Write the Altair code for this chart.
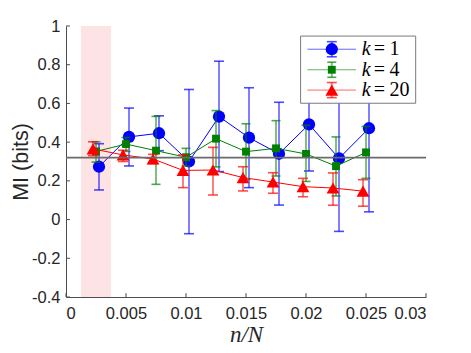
import altair as alt
import pandas as pd

# ---------------- data ----------------
x_k1 = [0.00275, 0.00525, 0.00775, 0.01025, 0.01275, 0.01525, 0.01775, 0.02025, 0.02275, 0.02525]
y_k1 = [0.273, 0.427, 0.446, 0.300, 0.532, 0.423, 0.340, 0.492, 0.316, 0.472]
lo_k1 = [0.153, 0.277, 0.356, -0.073, 0.248, 0.165, 0.075, 0.251, -0.061, 0.040]
hi_k1 = [0.392, 0.576, 0.536, 0.672, 0.818, 0.681, 0.606, 0.733, 0.693, 0.904]

x_k4 = [0.0025, 0.005, 0.0075, 0.01, 0.0125, 0.015, 0.0175, 0.02, 0.0225, 0.025]
y_k4 = [0.352, 0.390, 0.356, 0.322, 0.418, 0.351, 0.368, 0.339, 0.276, 0.347]
lo_k4 = [0.297, 0.352, 0.182, 0.276, 0.272, 0.207, 0.225, 0.197, 0.122, 0.213]
hi_k4 = [0.402, 0.424, 0.533, 0.368, 0.563, 0.495, 0.511, 0.487, 0.427, 0.481]

x_k20 = [0.00225, 0.00475, 0.00725, 0.00975, 0.01225, 0.01475, 0.01725, 0.01975, 0.02225, 0.02475]
y_k20 = [0.365, 0.334, 0.313, 0.254, 0.256, 0.217, 0.194, 0.170, 0.163, 0.147]
lo_k20 = [0.330, 0.300, 0.289, 0.165, 0.127, 0.148, 0.136, 0.118, 0.074, 0.069]
hi_k20 = [0.402, 0.358, 0.337, 0.334, 0.373, 0.273, 0.242, 0.213, 0.241, 0.206]

series_labels = ["1", "4", "20"]
shade_range = [0.00125, 0.00375]
hline_value = [0.32]
x_ticks = [0, 0.005, 0.01, 0.015, 0.02, 0.025, 0.03]
y_ticks = [-0.4, -0.2, 0, 0.2, 0.4, 0.6, 0.8, 1.0]

# ---------------- styles ----------------
colors = ["#0000ff", "#008000", "#ff0000"]
shapes = ["circle", "square", "triangle-up"]
sizes = [150, 62, 165]
cap_px = [10, 9, 10]

X_DOM = [0, 0.03]
Y_DOM = [-0.4, 1.0]
xs = alt.Scale(domain=X_DOM, nice=False, zero=False)
ys = alt.Scale(domain=Y_DOM, nice=False, zero=False)

AX = dict(grid=False, ticks=False, domainColor="#4d4d4d", domainWidth=1,
          labelColor="#262626", labelFont="Liberation Sans", labelFontSize=16.5)
xaxis = alt.Axis(values=x_ticks, labelExpr="toString(round(datum.value*1000)/1000)",
                 title="n/N", titleFont="Liberation Serif", titleFontStyle="italic",
                 titleFontWeight="normal", titleFontSize=23, titleColor="#262626",
                 labelPadding=8, titlePadding=2, **AX)
yaxis = alt.Axis(values=y_ticks, labelExpr="toString(round(datum.value*10)/10)",
                 title="MI (bits)", titleFont="Liberation Sans", titleFontWeight="normal",
                 titleFontSize=21.5, titleColor="#262626", labelPadding=6,
                 titleX=-39, titleY=135.5, titleAngle=270, titleAlign="center",
                 titleBaseline="alphabetic", **AX)


def X(f):
    return alt.X(f, type="quantitative", scale=xs, axis=xaxis)


def Y(f):
    return alt.Y(f, type="quantitative", scale=ys, axis=yaxis)


layers = []

# shaded band
shade_df = pd.DataFrame({"x0": [shade_range[0]], "x1": [shade_range[1]],
                         "y0": [Y_DOM[0]], "y1": [Y_DOM[1]]})
layers.append(alt.Chart(shade_df).mark_rect(color="#fde3e3").encode(
    x=X("x0"), x2="x1", y=Y("y0"), y2="y1"))

all_series = [(x_k1, y_k1, lo_k1, hi_k1), (x_k4, y_k4, lo_k4, hi_k4),
              (x_k20, y_k20, lo_k20, hi_k20)]

for i, (xv, yv, lo, hi) in enumerate(all_series):
    df = pd.DataFrame({"x": xv, "y": yv, "lo": lo, "hi": hi})
    c = colors[i]
    base = alt.Chart(df)
    layers.append(base.mark_rule(color=c, strokeWidth=2, opacity=0.5).encode(
        x=X("x"), y=Y("lo"), y2="hi"))
    layers.append(base.mark_tick(color=c, orient="horizontal", thickness=1.6,
                                 size=cap_px[i]).encode(x=X("x"), y=Y("lo")))
    layers.append(base.mark_tick(color=c, orient="horizontal", thickness=1.6,
                                 size=cap_px[i]).encode(x=X("x"), y=Y("hi")))
    layers.append(base.mark_line(color=c, strokeWidth=1).encode(
        x=X("x"), y=Y("y"), order="x:Q"))
    layers.append(base.mark_point(color=c, filled=True, opacity=1, shape=shapes[i],
                                  size=sizes[i]).encode(x=X("x"), y=Y("y")))

# reference line
hdf = pd.DataFrame({"x0": [X_DOM[0]], "x1": [X_DOM[1]], "y": hline_value})
layers.append(alt.Chart(hdf).mark_rule(color="#6b6b6b", strokeWidth=1.6).encode(
    x=X("x0"), x2="x1", y=Y("y")))

# inward tick marks
xt = pd.DataFrame({"x": x_ticks, "y0": [Y_DOM[0]] * len(x_ticks),
                   "y1": [Y_DOM[0] + 0.02] * len(x_ticks)})
layers.append(alt.Chart(xt).mark_rule(color="#4d4d4d", strokeWidth=1).encode(
    x=X("x"), y=Y("y0"), y2="y1"))
yt = pd.DataFrame({"y": y_ticks, "x0": [0.0] * len(y_ticks),
                   "x1": [0.00033] * len(y_ticks)})
layers.append(alt.Chart(yt).mark_rule(color="#4d4d4d", strokeWidth=1).encode(
    x=X("x0"), x2="x1", y=Y("y")))

# legend (placed in data coordinates)
LEG_BOX = dict(x0=0.01955, x1=0.02914, y0=0.601, y1=0.948)
LEG_ROWS = [0.880, 0.774, 0.669]
LEG_LINE = [0.02012, 0.02417]
LEG_MARK = 0.02215
LEG_ERR = 0.039
LEG_K = 0.02465
LEG_EQ = 0.02565
LEG_NUM = 0.02695

box = pd.DataFrame({"x0": [LEG_BOX["x0"]], "x1": [LEG_BOX["x1"]],
                    "y0": [LEG_BOX["y0"]], "y1": [LEG_BOX["y1"]]})
layers.append(alt.Chart(box).mark_rect(fill="white", stroke="#7a7a7a", strokeWidth=1).encode(
    x=X("x0"), x2="x1", y=Y("y0"), y2="y1"))

for i in range(3):
    r = LEG_ROWS[i]
    c = colors[i]
    ld = pd.DataFrame({"x0": [LEG_LINE[0]], "x1": [LEG_LINE[1]], "xm": [LEG_MARK],
                       "y": [r], "lo": [r - LEG_ERR], "hi": [r + LEG_ERR],
                       "xk": [LEG_K], "xe": [LEG_EQ], "xn": [LEG_NUM],
                       "num": [series_labels[i]]})
    b = alt.Chart(ld)
    layers.append(b.mark_rule(color=c, strokeWidth=1, opacity=0.6).encode(
        x=X("x0"), x2="x1", y=Y("y")))
    layers.append(b.mark_rule(color=c, strokeWidth=2, opacity=0.5).encode(
        x=X("xm"), y=Y("lo"), y2="hi"))
    layers.append(b.mark_tick(color=c, orient="horizontal", thickness=1.6,
                              size=cap_px[i]).encode(x=X("xm"), y=Y("lo")))
    layers.append(b.mark_tick(color=c, orient="horizontal", thickness=1.6,
                              size=cap_px[i]).encode(x=X("xm"), y=Y("hi")))
    layers.append(b.mark_point(color=c, filled=True, opacity=1, shape=shapes[i],
                               size=sizes[i]).encode(x=X("xm"), y=Y("y")))
    layers.append(b.mark_text(text="k", font="Liberation Serif", fontStyle="italic",
                              fontSize=20, align="left", baseline="middle",
                              color="#000000").encode(x=X("xk"), y=Y("y")))
    layers.append(b.mark_text(text="=", font="Liberation Serif", fontSize=20,
                              align="left", baseline="middle", color="#000000").encode(
        x=X("xe"), y=Y("y")))
    layers.append(b.mark_text(font="Liberation Serif", fontSize=20, align="left",
                              baseline="middle", color="#000000").encode(
        x=X("xn"), y=Y("y"), text="num:N"))

chart = alt.layer(*layers).properties(
    width=360, height=271,
    padding={"left": 58, "top": 18, "right": 20, "bottom": 50},
    autosize=alt.AutoSizeParams(type="none"),
).configure_view(stroke="transparent")

chart.save("out.html", embed_options={"renderer": "svg", "actions": False})
